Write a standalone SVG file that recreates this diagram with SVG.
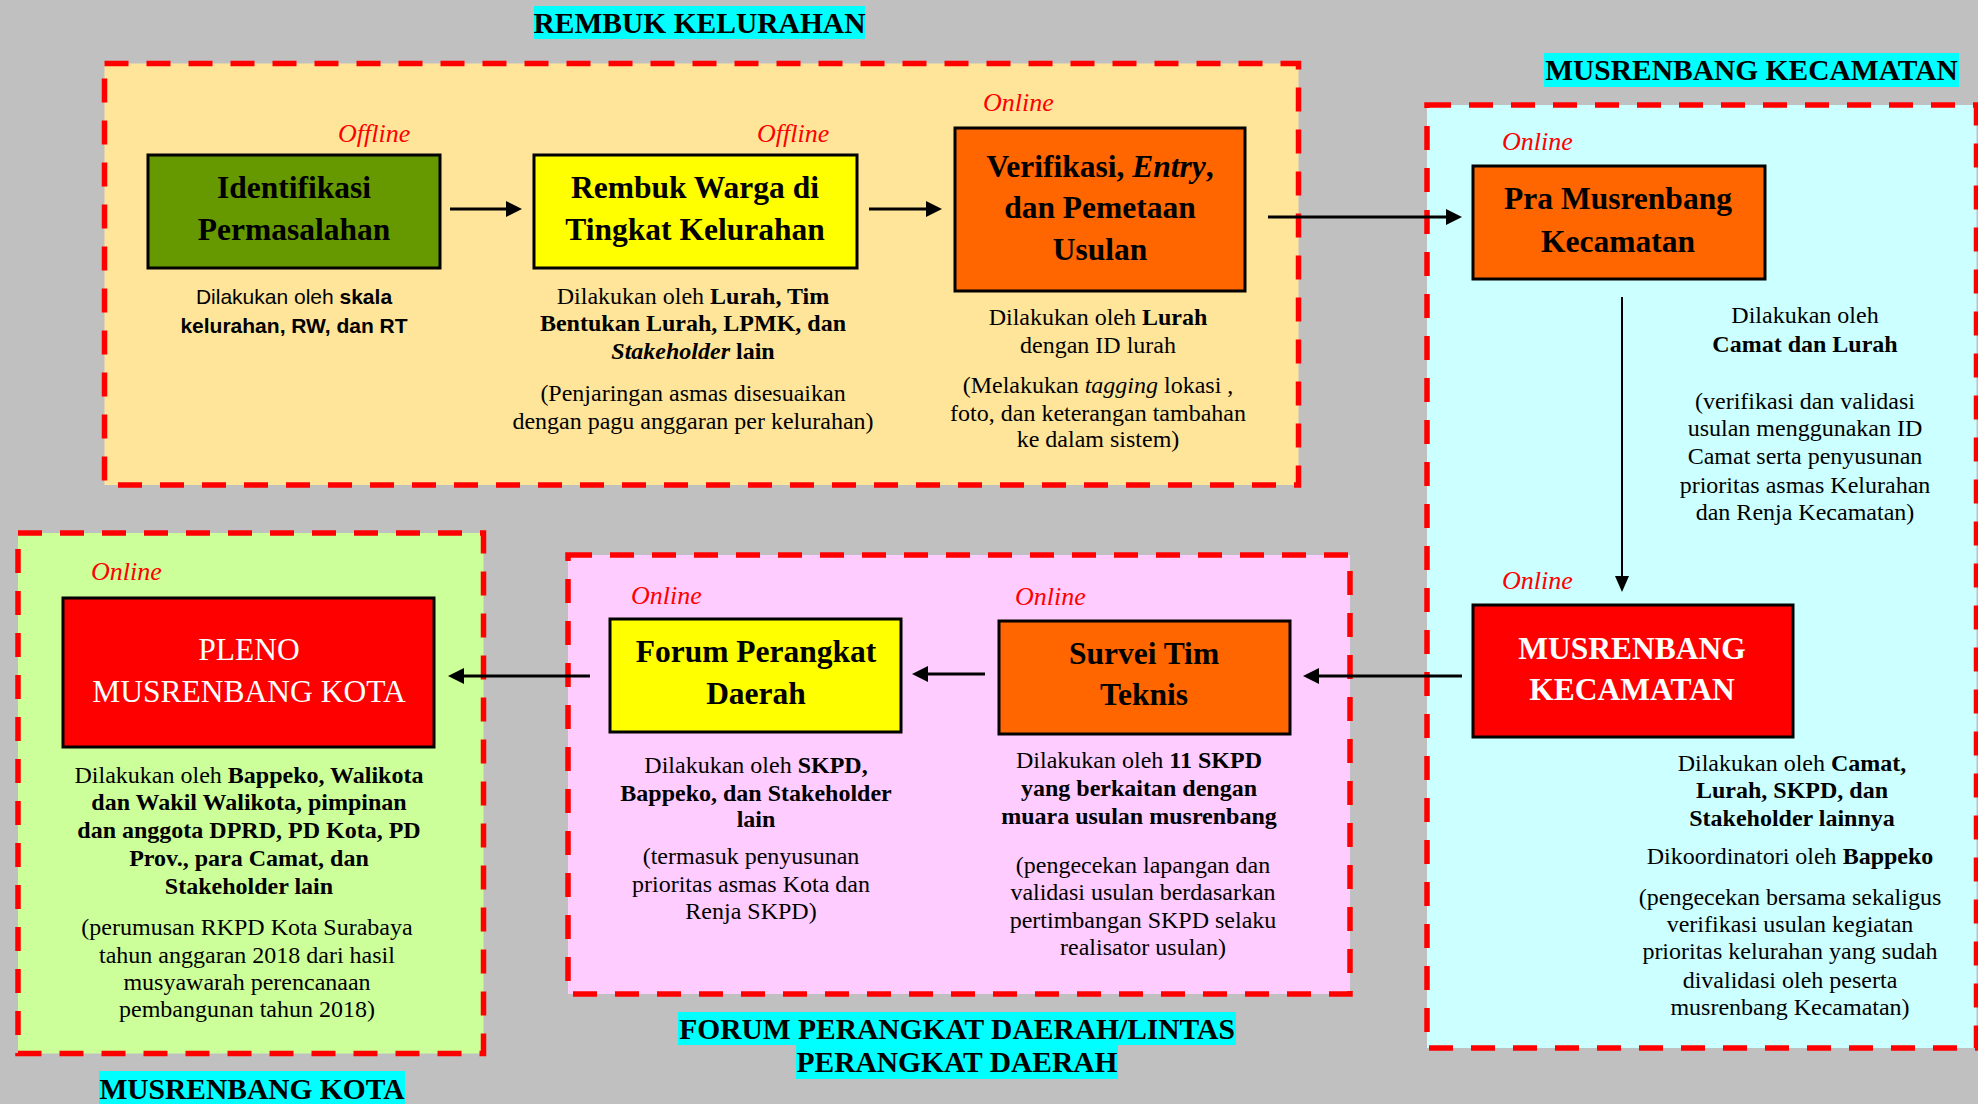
<svg xmlns="http://www.w3.org/2000/svg" width="1978" height="1104" viewBox="0 0 1978 1104">
  <defs>
    <style>
      .stage { stroke: #FF0000; stroke-width: 5.5; stroke-dasharray: 24 18; }
      .box { stroke: #000; stroke-width: 3; }
      .title { font-family: "Liberation Serif", "Times New Roman", serif; font-size: 31.5px; font-weight: bold; text-anchor: middle; fill: #000; }
      .title-w { fill: #fff; }
      .title-n { font-weight: normal; }
      .desc { font-family: "Liberation Serif", "Times New Roman", serif; font-size: 24px; text-anchor: middle; fill: #000; }
      .desc-sans { font-family: "Liberation Sans", Arial, sans-serif; font-size: 21px; text-anchor: middle; fill: #000; }
      .mode { font-family: "Liberation Serif", "Times New Roman", serif; font-size: 26px; font-style: italic; fill: #FF0000; }
      .stage-label { font-family: "Liberation Serif", "Times New Roman", serif; font-size: 29.5px; font-weight: bold; text-anchor: middle; fill: #000; }
      .b { font-weight: bold; }
      .i { font-style: italic; }
      .conn { stroke: #000; stroke-width: 3; fill: none; }
      .conn-thin { stroke: #000; stroke-width: 2; fill: none; }
    </style>
    <marker id="head" markerWidth="16" markerHeight="16" refX="6" refY="8" orient="auto" markerUnits="userSpaceOnUse">
      <path d="M0,0 L16,8 L0,16 z" fill="#000"/>
    </marker>
    <marker id="head-thin" markerWidth="16" markerHeight="14" refX="6" refY="7" orient="auto" markerUnits="userSpaceOnUse">
      <path d="M0,0 L16,7 L0,14 z" fill="#000"/>
    </marker>
  </defs>

  <!-- canvas -->
  <rect x="0" y="0" width="1978" height="1104" fill="#C0C0C0"/>

  <!-- stage areas -->
  <g id="stage-rembuk-kelurahan">
    <rect class="stage" x="104.5" y="63.5" width="1194" height="421.5" fill="#FFE599"/>
    <rect x="534" y="6" width="331" height="33" fill="#00FFFF"/>
    <text class="stage-label" x="699.5" y="33">REMBUK KELURAHAN</text>
  </g>
  <g id="stage-musrenbang-kecamatan">
    <rect class="stage" x="1427" y="105" width="549.5" height="943" fill="#CCFFFF"/>
    <rect x="1544" y="53" width="415" height="34" fill="#00FFFF"/>
    <text class="stage-label" x="1751.5" y="80">MUSRENBANG KECAMATAN</text>
  </g>
  <g id="stage-forum-pd">
    <rect class="stage" x="568" y="555" width="782" height="439" fill="#FFCCFF"/>
    <rect x="678" y="1012" width="558" height="33" fill="#00FFFF"/>
    <rect x="796" y="1045" width="322" height="34" fill="#00FFFF"/>
    <text class="stage-label" x="957" y="1039">FORUM PERANGKAT DAERAH/LINTAS</text>
    <text class="stage-label" x="957" y="1072">PERANGKAT DAERAH</text>
  </g>
  <g id="stage-musrenbang-kota">
    <rect class="stage" x="18" y="533" width="465.5" height="520.5" fill="#CCFF99"/>
    <rect x="99" y="1071" width="306" height="33" fill="#00FFFF"/>
    <text class="stage-label" x="252" y="1099">MUSRENBANG KOTA</text>
  </g>

  <!-- connectors -->
  <g id="connectors">
    <line class="conn" x1="450" y1="209" x2="512" y2="209" marker-end="url(#head)"/>
    <line class="conn" x1="869" y1="209" x2="932" y2="209" marker-end="url(#head)"/>
    <line class="conn" x1="1268" y1="217" x2="1452" y2="217" marker-end="url(#head)"/>
    <line class="conn-thin" x1="1622" y1="297" x2="1622" y2="582" marker-end="url(#head-thin)"/>
    <line class="conn" x1="1462" y1="676" x2="1313" y2="676" marker-end="url(#head)"/>
    <line class="conn" x1="985" y1="674" x2="922" y2="674" marker-end="url(#head)"/>
    <line class="conn" x1="590" y1="676" x2="458" y2="676" marker-end="url(#head)"/>
  </g>

  <!-- nodes -->
  <g id="node-identifikasi">
    <text class="mode" x="338" y="142">Offline</text>
    <rect class="box" x="148" y="155" width="292" height="113" fill="#669900"/>
    <text class="title" x="294" y="198">Identifikasi</text>
    <text class="title" x="294" y="240">Permasalahan</text>
    <text class="desc-sans" x="294" y="304">Dilakukan oleh <tspan class="b">skala</tspan></text>
    <text class="desc-sans b" x="294" y="333">kelurahan, RW, dan RT</text>
  </g>

  <g id="node-rembuk-warga">
    <text class="mode" x="757" y="142">Offline</text>
    <rect class="box" x="534" y="155" width="323" height="113" fill="#FFFF00"/>
    <text class="title" x="695" y="198">Rembuk Warga di</text>
    <text class="title" x="695" y="240">Tingkat Kelurahan</text>
    <text class="desc" x="693" y="304">Dilakukan oleh <tspan class="b">Lurah, Tim</tspan></text>
    <text class="desc b" x="693" y="331">Bentukan Lurah, LPMK, dan</text>
    <text class="desc b" x="693" y="359"><tspan class="i">Stakeholder</tspan> lain</text>
    <text class="desc" x="693" y="401">(Penjaringan asmas disesuaikan</text>
    <text class="desc" x="693" y="429">dengan pagu anggaran per kelurahan)</text>
  </g>

  <g id="node-verifikasi">
    <text class="mode" x="983" y="111">Online</text>
    <rect class="box" x="955" y="128" width="290" height="163" fill="#FF6600"/>
    <text class="title" x="1100" y="177">Verifikasi, <tspan class="i">Entry</tspan>,</text>
    <text class="title" x="1100" y="218">dan Pemetaan</text>
    <text class="title" x="1100" y="260">Usulan</text>
    <text class="desc" x="1098" y="325">Dilakukan oleh <tspan class="b">Lurah</tspan></text>
    <text class="desc" x="1098" y="353">dengan ID lurah</text>
    <text class="desc" x="1098" y="393">(Melakukan <tspan class="i">tagging</tspan> lokasi ,</text>
    <text class="desc" x="1098" y="421">foto, dan keterangan tambahan</text>
    <text class="desc" x="1098" y="447">ke dalam sistem)</text>
  </g>

  <g id="node-pra-musrenbang">
    <text class="mode" x="1502" y="150">Online</text>
    <rect class="box" x="1473" y="166" width="292" height="113" fill="#FF6600"/>
    <text class="title" x="1618" y="209">Pra Musrenbang</text>
    <text class="title" x="1618" y="252">Kecamatan</text>
    <text class="desc" x="1805" y="323">Dilakukan oleh</text>
    <text class="desc b" x="1805" y="352">Camat dan Lurah</text>
    <text class="desc" x="1805" y="409">(verifikasi dan validasi</text>
    <text class="desc" x="1805" y="436">usulan menggunakan ID</text>
    <text class="desc" x="1805" y="464">Camat serta penyusunan</text>
    <text class="desc" x="1805" y="493">prioritas asmas Kelurahan</text>
    <text class="desc" x="1805" y="520">dan Renja Kecamatan)</text>
  </g>

  <g id="node-musrenbang-kecamatan">
    <text class="mode" x="1502" y="589">Online</text>
    <rect class="box" x="1473" y="605" width="320" height="132" fill="#FF0000"/>
    <text class="title title-w" x="1632" y="659">MUSRENBANG</text>
    <text class="title title-w" x="1632" y="700">KECAMATAN</text>
    <text class="desc" x="1792" y="771">Dilakukan oleh <tspan class="b">Camat,</tspan></text>
    <text class="desc b" x="1792" y="798">Lurah, SKPD, dan</text>
    <text class="desc b" x="1792" y="826">Stakeholder lainnya</text>
    <text class="desc" x="1790" y="864">Dikoordinatori oleh <tspan class="b">Bappeko</tspan></text>
    <text class="desc" x="1790" y="905">(pengecekan bersama sekaligus</text>
    <text class="desc" x="1790" y="932">verifikasi usulan kegiatan</text>
    <text class="desc" x="1790" y="959">prioritas kelurahan yang sudah</text>
    <text class="desc" x="1790" y="988">divalidasi oleh peserta</text>
    <text class="desc" x="1790" y="1015">musrenbang Kecamatan)</text>
  </g>

  <g id="node-survei-tim-teknis">
    <text class="mode" x="1015" y="605">Online</text>
    <rect class="box" x="999" y="621" width="291" height="113" fill="#FF6600"/>
    <text class="title" x="1144" y="664">Survei Tim</text>
    <text class="title" x="1144" y="705">Teknis</text>
    <text class="desc" x="1139" y="768">Dilakukan oleh <tspan class="b">11 SKPD</tspan></text>
    <text class="desc b" x="1139" y="796">yang berkaitan dengan</text>
    <text class="desc b" x="1139" y="824">muara usulan musrenbang</text>
    <text class="desc" x="1143" y="873">(pengecekan lapangan dan</text>
    <text class="desc" x="1143" y="900">validasi usulan berdasarkan</text>
    <text class="desc" x="1143" y="928">pertimbangan SKPD selaku</text>
    <text class="desc" x="1143" y="955">realisator usulan)</text>
  </g>

  <g id="node-forum-perangkat-daerah">
    <text class="mode" x="631" y="604">Online</text>
    <rect class="box" x="610" y="619" width="291" height="113" fill="#FFFF00"/>
    <text class="title" x="756" y="662">Forum Perangkat</text>
    <text class="title" x="756" y="704">Daerah</text>
    <text class="desc" x="756" y="773">Dilakukan oleh <tspan class="b">SKPD,</tspan></text>
    <text class="desc b" x="756" y="801">Bappeko, dan Stakeholder</text>
    <text class="desc b" x="756" y="827">lain</text>
    <text class="desc" x="751" y="864">(termasuk penyusunan</text>
    <text class="desc" x="751" y="892">prioritas asmas Kota dan</text>
    <text class="desc" x="751" y="919">Renja SKPD)</text>
  </g>

  <g id="node-pleno-musrenbang-kota">
    <text class="mode" x="91" y="580">Online</text>
    <rect class="box" x="63" y="598" width="371" height="149" fill="#FF0000"/>
    <text class="title title-w title-n" x="249" y="660">PLENO</text>
    <text class="title title-w title-n" x="249" y="702">MUSRENBANG KOTA</text>
    <text class="desc" x="249" y="783">Dilakukan oleh <tspan class="b">Bappeko, Walikota</tspan></text>
    <text class="desc b" x="249" y="810">dan Wakil Walikota, pimpinan</text>
    <text class="desc b" x="249" y="838">dan anggota DPRD, PD Kota, PD</text>
    <text class="desc b" x="249" y="866">Prov., para Camat, dan</text>
    <text class="desc b" x="249" y="894">Stakeholder lain</text>
    <text class="desc" x="247" y="935">(perumusan RKPD Kota Surabaya</text>
    <text class="desc" x="247" y="963">tahun anggaran 2018 dari hasil</text>
    <text class="desc" x="247" y="990">musyawarah perencanaan</text>
    <text class="desc" x="247" y="1017">pembangunan tahun 2018)</text>
  </g>
</svg>
